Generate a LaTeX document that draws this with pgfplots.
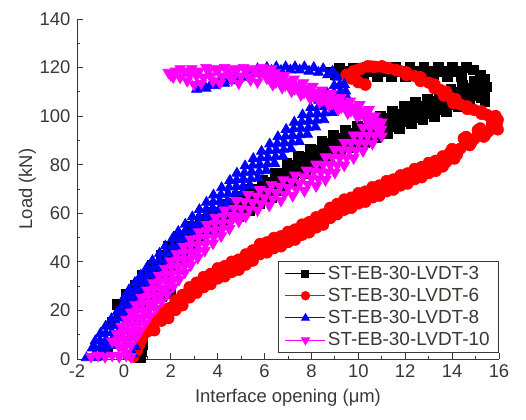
\documentclass[border=0pt]{standalone}
\usepackage{fontspec}
\setmainfont{Liberation Sans}
\usepackage{pgfplots}
\pgfplotsset{compat=1.18}

\definecolor{textgray}{RGB}{60,55,50}
\definecolor{axgray}{RGB}{55,55,55}
\definecolor{magentaB}{RGB}{255,0,255}

\pgfplotsset{
  sqB/.style={black, mark=square*, mark size=4.9bp, mark options={solid, fill=black}},
  ciR/.style={red, mark=*, mark size=5.8bp, mark options={solid, fill=red}},
  trB/.style={blue, mark=triangle*, mark size=5.8bp, mark options={solid, fill=blue}},
  trM/.style={magentaB, mark=triangle*, mark size=6.3bp, mark options={solid, fill=magentaB, rotate=180}},
}

\begin{document}
\begin{tikzpicture}
\useasboundingbox (-77bp,-61bp) rectangle (449bp,359bp);
\begin{axis}[
  width=422bp, height=340bp, scale only axis,
  xmin=-2, xmax=16, ymin=0, ymax=140,
  axis x line*=bottom, axis y line*=left,
  axis line style={axgray, line width=0.9bp},
  every tick/.style={axgray, line width=0.9bp},
  tick align=inside,
  major tick length=6bp, minor tick length=3.5bp,
  xtick={-2,0,2,4,6,8,10,12,14,16},
  xticklabels={-2,0,2,4,6,8,10,12,14,16},
  ytick={0,20,40,60,80,100,120,140},
  yticklabels={0,20,40,60,80,100,120,140},
  minor x tick num=1, minor y tick num=1,
  font=\fontsize{18.5}{22}\selectfont,
  /pgf/number format/assume math mode=true,
  tick label style={text=textgray},
  xticklabel style={yshift=-2bp},
  yticklabel style={xshift=-3bp},
  xlabel={Interface opening (μm)},
  ylabel={Load (kN)},
  label style={text=textgray},
  xlabel style={at={(axis description cs:0.5,0)}, anchor=north, yshift=-27bp},
  ylabel style={at={(axis description cs:-0.0889,0.5)}, anchor=south},
  legend style={at={(1,0.018)}, anchor=south east, draw=axgray, line width=0.8bp,
    fill=white, font=\fontsize{19}{23}\selectfont, text=textgray,
    inner xsep=7bp, inner ysep=3bp, row sep=3.5bp},
  legend cell align=left,
  legend image code/.code={%
    \draw[line width=1bp, /tikz/every mark/.append style={scale=0.72}, mark repeat=2, mark phase=2]
      plot coordinates {(0bp,0bp) (20bp,0bp) (40bp,0bp)};},
]

% ST-EB-30-LVDT-3
\addplot[sqB, line width=0.8bp]
coordinates {
(0.0,20) (-0.3,22.5) (0.3,17.5) (0.4,24) (0.1,26.5) (0.7,21.5)
(0.8,28) (0.5,30.5) (1.1,25.5) (1.1,32) (0.8,34.5) (1.4,29.5)
(1.5,36) (1.2,38.5) (1.8,33.5) (1.9,40) (1.6,42.5) (2.2,37.5)
(2.2,44) (1.9,46.5) (2.5,41.5) (2.6,48) (2.3,50.5) (2.9,45.5)
(3.1,52) (2.8,54.5) (3.4,49.5) (3.6,55) (3.3,57.5) (3.9,52.5)
(4.1,58) (3.8,60.5) (4.4,55.5) (4.6,61) (4.3,63.5) (4.9,58.5)
(5.1,64) (4.85,67) (5.35,61) (5.6,67) (5.4,70) (5.8,64)
(6.1,70) (5.9,73.5) (6.3,66.5) (6.6,73) (6.45,76.5) (6.75,69.5)
(7.1,77) (6.95,80.5) (7.25,73.5) (7.6,80) (7.45,83.5) (7.75,76.5)
(8.1,83) (7.95,86.5) (8.25,79.5) (8.6,86) (8.45,89.5) (8.75,82.5)
(9.1,88.5) (8.95,92) (9.25,85) (9.6,90.5) (9.45,94) (9.75,87)
(10.1,92.5) (9.95,96) (10.25,89) (10.6,94.5) (10.45,98) (10.75,91)
(11.1,96.5) (10.95,100) (11.25,93) (11.6,98.5) (11.45,102) (11.75,95)
(12.1,100.5) (11.95,104) (12.25,97) (12.6,102) (12.45,105.5) (12.75,98.5)
(13.1,103.5) (12.95,107) (13.25,100) (13.6,105.5) (13.45,109) (13.75,102)
(14.1,107.5) (13.95,111) (14.25,104) (14.6,109) (14.45,112.5) (14.75,105.5)
(15.1,111) (14.95,114.5) (15.25,107.5)
(15.4,106) (15.4,109) (15.45,112) (15.4,115) (15.2,117) (14.9,119)
(14.6,120) (14.4,116.5) (14.2,118.3) (14.0,120) (13.8,116.5) (13.6,118.3)
(13.4,120) (13.2,116.5) (13.0,118.3) (12.8,120) (12.6,116.5) (12.4,118.3)
(12.2,120) (12.0,116.5) (11.8,118.3) (11.6,120) (11.4,116.5) (11.2,118.3)
(11.0,120) (10.8,116.5) (10.6,118.3) (10.4,120) (10.2,116.5) (10.0,118.3)
(9.8,119.5) (9.6,116.5) (9.4,118.3) (9.2,119.5) (9.0,117) (8.8,118)
};
\addlegendentry{ST-EB-30-LVDT-3}
\addplot[sqB, only marks, forget plot]
coordinates {
(0.1,23.5) (0.3,20.5) (0.5,27.5) (0.7,24.5) (0.85,31.5) (1.05,28.5)
(1.2,35.5) (1.4,32.5) (1.6,39.5) (1.8,36.5) (1.95,43.5) (2.15,40.5)
(2.3,47.5) (2.5,44.5) (2.75,51.5) (2.95,48.5) (3.25,55) (3.45,52)
(3.75,58) (3.95,55) (4.25,61) (4.45,58) (4.75,64) (4.95,61)
(5.25,67) (5.45,64) (5.75,70) (5.95,67) (6.25,73) (6.45,70)
(6.75,76.5) (6.95,73.5) (7.25,80) (7.45,77) (7.75,83) (7.95,80)
(8.25,86) (8.45,83) (8.75,88.7) (8.95,85.7) (9.25,91) (9.45,88)
(9.75,93) (9.95,90) (10.25,95) (10.45,92) (10.75,97) (10.95,94)
(11.25,99) (11.45,96) (11.75,101) (11.95,98) (12.25,102.7) (12.45,99.7)
(12.75,104.2) (12.95,101.2) (13.25,106) (13.45,103) (13.75,108) (13.95,105)
(14.25,109.7) (14.45,106.7) (14.75,111.5) (14.95,108.5)
(0.7,0.5) (0.75,3) (0.8,6) (0.8,9) (0.55,11)
(-0.9,3.5) (-0.7,5) (-0.5,15) (-0.2,18) (0.0,21) (0.2,22.5)
(0.9,31) (1.3,32) (1.6,26) (2.0,27)
};

% ST-EB-30-LVDT-6
\addplot[ciR, line width=0.8bp]
coordinates {
(0.4,1) (0.55,3.5) (0.65,6) (0.75,8) (0.85,10.5) (1.0,11.4) (1.3,15.2) (1.6,15.8)
(1.9,20.8) (2.2,20.2) (2.5,26.3) (2.8,25.4) (3.1,31.4) (3.4,29.6) (3.7,35) (4.0,33.2)
(4.3,38.2) (4.6,35.9) (4.9,40.9) (5.2,38.9) (5.5,44.7) (5.8,43.2) (6.1,48) (6.4,45.7)
(6.7,50.5) (7.0,48.2) (7.3,53.3) (7.6,51.2) (7.9,56.3) (8.2,54.2) (8.5,59.5) (8.8,58.1)
(9.1,63.8) (9.4,61.5) (9.7,66.4) (10.0,64.1) (10.3,68.9) (10.6,66.6) (10.9,71.4)
(11.2,69.1) (11.5,73.9) (11.8,71.5) (12.1,76.4) (12.4,74.1) (12.7,79) (13.0,76.6)
(13.3,81.6) (13.6,79.3) (13.9,84.8) (14.2,84.2) (14.5,90.8) (14.8,88.9) (15.1,94.2)
(15.4,92.1) (15.7,96.5) (15.9,97) (15.7,98.5) (15.85,100) (15.25,101) (15.25,102)
(14.65,103) (14.65,104) (14.05,105.5) (14.15,107) (13.65,108.5) (13.75,110)
(13.25,111.5) (13.25,113) (12.65,114.5) (12.65,116) (12.05,117) (12.05,118)
(11.6,119) (11.3,119.7) (11.0,120.5) (10.7,120.3) (10.4,120.5) (10.1,119.5)
(9.8,118.5) (9.5,117) (9.7,115.5) (10.0,114) (10.3,113)
};
\addlegendentry{ST-EB-30-LVDT-6}
\addplot[ciR, only marks, forget plot]
coordinates {
(1.15,11.9) (1.45,16.4) (1.75,17.1) (2.05,21.4) (2.35,22.25) (2.65,26.75)
(2.95,27.5) (3.25,31.4) (3.55,31.4) (3.85,35) (4.15,34.8) (4.45,37.95)
(4.75,37.5) (5.05,40.8) (5.35,40.9) (5.65,44.85) (5.95,44.7) (6.25,47.8)
(6.55,47.2) (6.85,50.3) (7.15,49.85) (7.45,53.15) (7.75,52.85) (8.05,56.15)
(8.35,55.95) (8.65,59.7) (8.95,60.05) (9.25,63.55) (9.55,63.05) (9.85,66.15)
(10.15,65.6) (10.45,68.65) (10.75,68.1) (11.05,71.15) (11.35,70.6) (11.65,73.6)
(11.95,73.05) (12.25,76.15) (12.55,75.65) (12.85,78.7) (13.15,78.2) (13.45,81.35)
(13.75,81.15) (14.05,85.4) (14.35,86.6) (14.65,90.75) (14.95,90.65) (15.25,94.05)
(15.55,93.75)
(15.8,96) (15.75,99.2) (15.5,100.5) (14.95,102.5) (14.35,104.8) (13.9,107.8)
(13.5,110.8) (13.0,113.8) (12.4,116.5) (11.8,118.5) (11.15,120) (10.55,120.5)
(9.95,119) (9.6,116.3)
(1.3,11.8) (1.6,19.2) (1.9,16.8) (2.2,24.2) (2.5,22.1) (2.8,29.6) (3.1,27.2)
(3.4,33.8) (3.7,30.8) (4.0,37.4) (4.3,34) (4.6,40.1) (4.9,36.7) (5.2,43.1)
(5.5,40.5) (5.8,47.4) (6.1,43.85) (6.4,49.9) (6.7,46.35) (7.0,52.4) (7.3,49.1)
(7.6,55.4) (7.9,52.1) (8.2,58.4) (8.5,55.3) (8.8,62.3) (9.1,59.6) (9.4,65.7)
(9.7,62.2) (10.0,68.3) (10.3,64.7) (10.6,70.8) (10.9,67.2) (11.2,73.3)
(11.5,69.7) (11.8,75.7) (12.1,72.2) (12.4,78.3) (12.7,74.8) (13.0,80.8)
(13.3,77.4) (13.6,83.5) (14.1,82.5) (14.0,86.5) (14.75,88) (14.6,91.5)
(15.35,91.5) (15.2,95) (15.95,94.5) (15.95,98.5)
};

% ST-EB-30-LVDT-8
\addplot[trB, line width=0.8bp]
coordinates {
(-1.6,0.5) (-1.2,0.5) (-0.9,1) (-1.25,2) (-1.35,4.5) (-0.95,0.8)
(-1.0,5) (-1.22,7.5) (-0.72,2.5) (-0.75,8) (-1.0,10.5) (-0.47,5.5)
(-0.5,11) (-0.78,13.5) (-0.22,8.5) (-0.25,14) (-0.53,16.5) (0.03,11.5)
(0.0,17) (-0.28,19.5) (0.28,14.5) (0.2,20) (-0.03,22.5) (0.43,17.5)
(0.3,23) (0.02,25.5) (0.58,20.5) (0.5,26) (0.22,28.5) (0.78,23.5)
(0.75,29) (0.47,31.5) (1.03,26.5) (1.0,32) (0.72,34.5) (1.28,29.5)
(1.25,35) (0.97,37.5) (1.53,32.5) (1.5,38) (1.22,40.5) (1.78,35.5)
(1.8,41) (1.52,43.5) (2.08,38.5) (2.05,44) (1.77,46.5) (2.33,41.5)
(2.35,47) (2.07,49.5) (2.63,44.5) (2.6,50) (2.32,52.5) (2.88,47.5)
(2.9,53) (2.62,55.5) (3.18,50.5) (3.2,56) (2.92,58.5) (3.48,53.5)
(3.5,59) (3.22,61.5) (3.78,56.5) (3.8,62) (3.52,64.5) (4.08,59.5)
(4.1,65) (3.82,67.5) (4.38,62.5) (4.45,68) (4.17,70.5) (4.73,65.5)
(4.8,71) (4.52,73.5) (5.08,68.5) (5.1,74) (4.82,76.5) (5.38,71.5)
(5.45,77) (5.17,79.5) (5.73,74.5) (5.8,80) (5.52,82.5) (6.08,77.5)
(6.15,83) (5.87,85.5) (6.43,80.5) (6.5,86) (6.22,88.5) (6.78,83.5)
(6.85,89) (6.57,91.5) (7.13,86.5) (7.2,92) (6.92,94.5) (7.48,89.5)
(7.55,95) (7.27,97.5) (7.83,92.5) (7.9,98) (7.62,100.5) (8.18,95.5)
(8.25,101) (7.97,103.5) (8.53,98.5) (8.6,104) (8.32,106.5) (8.88,101.5)
(8.95,107) (8.67,109.5) (9.23,104.5) (9.25,110) (8.97,112.5) (9.53,107.5)
(9.4,113) (9.1,116) (8.9,118.5) (8.7,117) (8.5,119.5) (8.3,118) (8.1,120)
(7.9,118.5) (7.7,120.3) (7.5,119) (7.3,120.3) (7.1,119) (6.9,120.3) (6.7,118.8)
(6.5,120.3) (6.3,118.8) (6.1,120) (5.9,118.5) (5.7,119.5) (5.5,117.5) (5.3,118)
(5.1,116) (4.9,115.5) (4.7,114.5) (4.5,115) (4.3,113.5) (4.1,114.5) (3.9,112.5)
(3.7,113) (3.5,111.5) (3.3,112) (3.1,111)
};
\addlegendentry{ST-EB-30-LVDT-8}
\addplot[trB, only marks, forget plot]
coordinates {
(-1.24,4.75) (-0.96,2.25) (-1.02,7.75) (-0.74,5.25) (-0.77,10.75) (-0.49,8.25)
(-0.52,13.75) (-0.24,11.25) (-0.27,16.75) (0.01,14.25) (-0.07,19.75) (0.21,17.25)
(0.04,22.75) (0.32,20.25) (0.26,25.75) (0.54,23.25) (0.49,28.75) (0.77,26.25)
(0.74,31.75) (1.02,29.25) (0.99,34.75) (1.27,32.25) (1.24,37.75) (1.52,35.25)
(1.51,40.75) (1.79,38.25) (1.79,43.75) (2.07,41.25) (2.06,46.75) (2.34,44.25)
(2.34,49.75) (2.62,47.25) (2.61,52.75) (2.89,50.25) (2.91,55.75) (3.19,53.25)
(3.21,58.75) (3.49,56.25) (3.51,61.75) (3.79,59.25) (3.81,64.75) (4.09,62.25)
(4.14,67.75) (4.42,65.25) (4.49,70.75) (4.77,68.25) (4.81,73.75) (5.09,71.25)
(5.14,76.75) (5.42,74.25) (5.49,79.75) (5.77,77.25) (5.84,82.75) (6.12,80.25)
(6.19,85.75) (6.47,83.25) (6.54,88.75) (6.82,86.25) (6.89,91.75) (7.17,89.25)
(7.24,94.75) (7.52,92.25) (7.59,97.75) (7.87,95.25) (7.94,100.75) (8.22,98.25)
(8.29,103.75) (8.57,101.25) (8.64,106.75) (8.92,104.25) (8.96,109.75) (9.24,107.25)
(9.19,112.75) (9.47,110.25)
(0.4,2) (0.5,5)
};

% ST-EB-30-LVDT-10
\addplot[trM, line width=0.8bp]
coordinates {
(-1.4,1) (-1.1,1.5) (-0.8,1) (-0.5,1.5) (-0.2,1) (0.1,1.5) (0.3,1)
(-0.2,5) (-0.5,7.3) (0.1,2.7) (0.0,8) (-0.3,10.3) (0.3,5.7)
(0.2,11) (-0.1,13.3) (0.5,8.7) (0.4,14) (0.1,16.3) (0.7,11.7)
(0.6,17) (0.3,19.3) (0.9,14.7) (0.8,20) (0.5,22.3) (1.1,17.7)
(1.05,23) (0.75,25.3) (1.35,20.7) (1.3,26) (1.0,28.3) (1.6,23.7)
(1.55,29) (1.25,31.3) (1.85,26.7) (1.8,32) (1.5,34.3) (2.1,29.7)
(2.05,35) (1.75,37.3) (2.35,32.7) (2.3,38) (2.0,40.3) (2.6,35.7)
(2.55,41) (2.25,43.3) (2.85,38.7) (2.85,44) (2.55,46.3) (3.15,41.7)
(3.15,47) (2.85,49.3) (3.45,44.7) (3.5,50) (3.2,52.3) (3.8,47.7)
(3.85,53) (3.55,55.3) (4.15,50.7) (4.2,56) (3.9,58.3) (4.5,53.7)
(4.6,59) (4.3,61.3) (4.9,56.7)
(5.0,62) (4.8,65.2) (5.2,58.8) (5.5,64.5) (5.3,67.7) (5.7,61.3)
(6.0,66.5) (5.8,69.7) (6.2,63.3) (6.5,68.5) (6.3,71.7) (6.7,65.3)
(7.0,70.5) (6.8,73.7) (7.2,67.3) (7.5,72.5) (7.3,75.7) (7.7,69.3)
(8.0,74.5) (7.8,77.7) (8.2,71.3) (8.4,77) (8.2,80.2) (8.6,73.8)
(8.8,80) (8.6,83.2) (9.0,76.8) (9.2,83) (9.0,86.2) (9.4,79.8)
(9.6,86) (9.4,89.2) (9.8,82.8) (10.0,89) (9.8,92.2) (10.2,85.8)
(10.4,92) (10.2,95.2) (10.6,88.8) (10.8,95) (10.6,98.2) (11.0,91.8)
(11.0,97.5)
(10.6,99.5) (10.45,102.7) (10.75,96.3) (10.2,101.5) (10.05,104.7) (10.35,98.3)
(9.8,103) (9.65,106.2) (9.95,99.8) (9.4,104.5) (9.25,107.7) (9.55,101.3)
(9.0,106) (8.85,109.2) (9.15,102.8) (8.6,107.5) (8.45,110.7) (8.75,104.3)
(8.2,109) (8.05,112.2) (8.35,105.8) (7.8,110.5) (7.65,113.7) (7.95,107.3)
(7.4,112) (7.25,115.2) (7.55,108.8) (7.0,113.5) (6.85,116.7) (7.15,110.3)
(6.6,115) (6.45,118) (6.75,111.8) (6.2,116) (6.05,118.5) (6.35,113)
(5.8,117) (5.6,118.8) (5.4,115) (5.2,118.5) (5.0,116.5) (4.8,118.8) (4.6,115)
(4.4,118.5) (4.2,116.5) (4.0,118.8) (3.8,114.5) (3.6,118.5) (3.4,116) (3.2,118.5)
(3.0,113) (2.8,117) (2.6,118.5) (2.4,116) (2.2,118.5) (2.0,117) (1.9,118)
};
\addlegendentry{ST-EB-30-LVDT-10}
\addplot[trM, only marks, forget plot]
coordinates {
(-0.25,7.8) (0.05,5.2) (-0.05,10.8) (0.25,8.2) (0.15,13.8) (0.45,11.2)
(0.35,16.8) (0.65,14.2) (0.55,19.8) (0.85,17.2) (0.78,22.8) (1.08,20.2)
(1.03,25.8) (1.33,23.2) (1.28,28.8) (1.58,26.2) (1.53,31.8) (1.83,29.2)
(1.78,34.8) (2.08,32.2) (2.03,37.8) (2.33,35.2) (2.28,40.8) (2.58,38.2)
(2.55,43.8) (2.85,41.2) (2.85,46.8) (3.15,44.2) (3.18,49.8) (3.48,47.2)
(3.53,52.8) (3.83,50.2) (3.88,55.8) (4.18,53.2) (4.25,58.8) (4.55,56.2)
(4.7,62.1) (4.9,58.9) (5.15,64.85) (5.35,61.65) (5.65,67.1) (5.85,63.9)
(6.15,69.1) (6.35,65.9) (6.65,71.1) (6.85,67.9) (7.15,73.1) (7.35,69.9)
(7.65,75.1) (7.85,71.9) (8.1,77.35) (8.3,74.15) (8.5,80.1) (8.7,76.9)
(8.9,83.1) (9.1,79.9) (9.3,86.1) (9.5,82.9) (9.7,89.1) (9.9,85.9)
(10.1,92.1) (10.3,88.9) (10.5,95.1) (10.7,91.9) (10.8,97.85) (11.0,94.65)
(10.72,100.1) (10.88,96.9) (10.32,102.1) (10.48,98.9) (9.92,103.85) (10.08,100.65)
(9.52,105.35) (9.68,102.15) (9.12,106.85) (9.28,103.65) (8.72,108.35) (8.88,105.15)
(8.32,109.85) (8.48,106.65) (7.92,111.35) (8.08,108.15) (7.52,112.85) (7.68,109.65)
(7.12,114.35) (7.28,111.15) (6.72,115.85) (6.88,112.65) (6.32,117.1) (6.48,113.9)
(2.1,116) (2.4,119.5) (2.7,114.5) (2.9,119.5) (3.1,116.5) (3.3,113.5) (3.5,120)
(3.7,116.5) (3.9,119.5) (4.1,113.5) (4.3,120) (4.5,117) (4.7,119.5) (4.9,113.5)
(5.1,120) (5.3,116.5) (5.5,119.5) (5.7,114) (5.9,120) (6.1,115.5) (6.3,119.5)
(6.5,116.5)
};
\end{axis}
\end{tikzpicture}
\end{document}
